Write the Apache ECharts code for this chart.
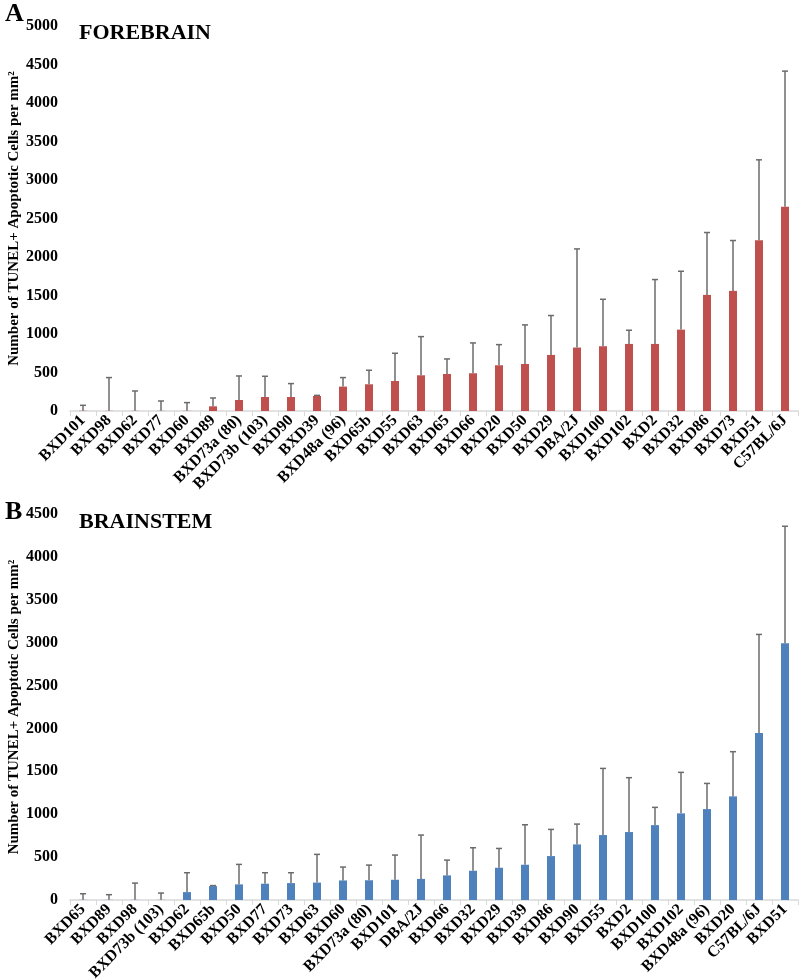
<!DOCTYPE html>
<html>
<head>
    <meta charset="utf-8" />
    <title>TUNEL+ apoptotic cells</title>
    <style>
        html, body { margin: 0; padding: 0; background: #fff; }
    </style>
</head>
<body>

    <div id="divChart" style="width:800px;height:979px;"></div>

    <script src="https://cdn.jsdelivr.net/npm/echarts@6/dist/echarts.min.js"></script>
    <script>
        // forebrain panel (A)
        var foreStrains = ['BXD101', 'BXD98', 'BXD62', 'BXD77', 'BXD60', 'BXD89', 'BXD73a (80)', 'BXD73b (103)', 'BXD90', 'BXD39',
            'BXD48a (96)', 'BXD65b', 'BXD55', 'BXD63', 'BXD65', 'BXD66', 'BXD20', 'BXD50', 'BXD29', 'DBA/2J',
            'BXD100', 'BXD102', 'BXD2', 'BXD32', 'BXD86', 'BXD73', 'BXD51', 'C57BL/6J'];
        var foreMean = [3, 2, 2, 2, 2, 61, 143, 182, 182, 195,
            317, 347, 390, 464, 481, 490, 594, 611, 728, 824,
            841, 871, 871, 1057, 1508, 1560, 2218, 2651];
        var foreUpper = [74, 434, 260, 130, 109, 169, 455, 451, 356, 203,
            434, 529, 750, 966, 676, 884, 862, 1118, 1240, 2105,
            1451, 1049, 1707, 1815, 2318, 2214, 3262, 4414];

        // brainstem panel (B)
        var brainStrains = ['BXD65', 'BXD89', 'BXD98', 'BXD73b (103)', 'BXD62', 'BXD65b', 'BXD50', 'BXD77', 'BXD73', 'BXD63',
            'BXD60', 'BXD73a (80)', 'BXD101', 'DBA/2J', 'BXD66', 'BXD32', 'BXD29', 'BXD39', 'BXD86', 'BXD90',
            'BXD55', 'BXD2', 'BXD100', 'BXD102', 'BXD48a (96)', 'BXD20', 'C57BL/6J', 'BXD51'];
        var brainMean = [2, 2, 2, 2, 92, 162, 182, 190, 197, 203,
            228, 230, 236, 246, 287, 341, 376, 411, 512, 648,
            757, 792, 873, 1010, 1060, 1208, 1946, 2993];
        var brainUpper = [73, 62, 197, 81, 318, 168, 415, 318, 318, 532,
            384, 407, 524, 757, 465, 609, 601, 877, 823, 885,
            1534, 1426, 1080, 1488, 1359, 1729, 3096, 4357];

        var yName = 'Number of TUNEL+ Apoptotic Cells per mm²';
        var serif = '"Liberation Serif", "DejaVu Serif", serif';

        function errData(mean, upper) {
            return mean.map(function (m, i) { return [i, m, upper[i]]; });
        }

        // one-sided error bar: vertical line from the mean up to mean+SD, with a cap
        function renderErr(params, api) {
            var base = api.coord([api.value(0), api.value(1)]);
            var top = api.coord([api.value(0), api.value(2)]);
            var style = { stroke: '#6b6b6b', lineWidth: 1.5 };
            return {
                type: 'group',
                children: [
                    { type: 'line', shape: { x1: top[0], y1: base[1], x2: top[0], y2: top[1] }, style: style },
                    { type: 'line', shape: { x1: top[0] - 3, y1: top[1], x2: top[0] + 3, y2: top[1] }, style: style }
                ]
            };
        }

        function xAxisFor(idx, cats) {
            return {
                type: 'category',
                gridIndex: idx,
                data: cats,
                axisLine: { lineStyle: { color: '#d9d9d9', width: 1.5 } },
                axisTick: { show: true, length: 5, lineStyle: { color: '#d9d9d9' } },
                axisLabel: {
                    interval: 0, rotate: 45, margin: 7,
                    color: '#000', fontFamily: serif, fontWeight: 'bold', fontSize: 16
                }
            };
        }

        function yAxisFor(idx, max) {
            return {
                type: 'value',
                gridIndex: idx,
                min: 0, max: max, interval: 500,
                name: yName,
                nameLocation: 'middle',
                nameGap: 48,
                nameMoveOverlap: false,
                nameTextStyle: { color: '#000', fontFamily: serif, fontWeight: 'bold', fontSize: 15 },
                axisLine: { show: false },
                axisTick: { show: false },
                splitLine: { show: false },
                axisLabel: {
                    color: '#000', fontFamily: serif, fontWeight: 'bold', fontSize: 16, margin: 12,
                    formatter: function (v) { return String(v); }
                }
            };
        }

        var myChart = echarts.init(document.getElementById('divChart'));

        var option = {
            animation: false,
            backgroundColor: '#fff',
            title: [
                { text: 'A', left: 0, top: -4, textStyle: { fontFamily: serif, fontWeight: 'bold', fontSize: 26, color: '#000' } },
                { text: 'FOREBRAIN', left: 74, top: 17, textStyle: { fontFamily: serif, fontWeight: 'bold', fontSize: 22, color: '#000' } },
                { text: 'B', left: 0, top: 494, textStyle: { fontFamily: serif, fontWeight: 'bold', fontSize: 26, color: '#000' } },
                { text: 'BRAINSTEM', left: 74, top: 506, textStyle: { fontFamily: serif, fontWeight: 'bold', fontSize: 22, color: '#000' } }
            ],
            grid: [
                { left: 70, right: 2, top: 26, height: 385, outerBoundsMode: 'none' },
                { left: 70, right: 2, top: 514, height: 386, outerBoundsMode: 'none' }
            ],
            xAxis: [xAxisFor(0, foreStrains), xAxisFor(1, brainStrains)],
            yAxis: [yAxisFor(0, 5000), yAxisFor(1, 4500)],
            series: [
                {
                    name: 'Forebrain', type: 'bar', xAxisIndex: 0, yAxisIndex: 0,
                    barWidth: 8, itemStyle: { color: '#c0504d' }, data: foreMean
                },
                {
                    name: 'Forebrain SD', type: 'custom', xAxisIndex: 0, yAxisIndex: 0,
                    renderItem: renderErr, data: errData(foreMean, foreUpper), z: 3
                },
                {
                    name: 'Brainstem', type: 'bar', xAxisIndex: 1, yAxisIndex: 1,
                    barWidth: 8, itemStyle: { color: '#4f81bd' }, data: brainMean
                },
                {
                    name: 'Brainstem SD', type: 'custom', xAxisIndex: 1, yAxisIndex: 1,
                    renderItem: renderErr, data: errData(brainMean, brainUpper), z: 3
                }
            ]
        };
        myChart.setOption(option);
    </script>
</body>
</html>
